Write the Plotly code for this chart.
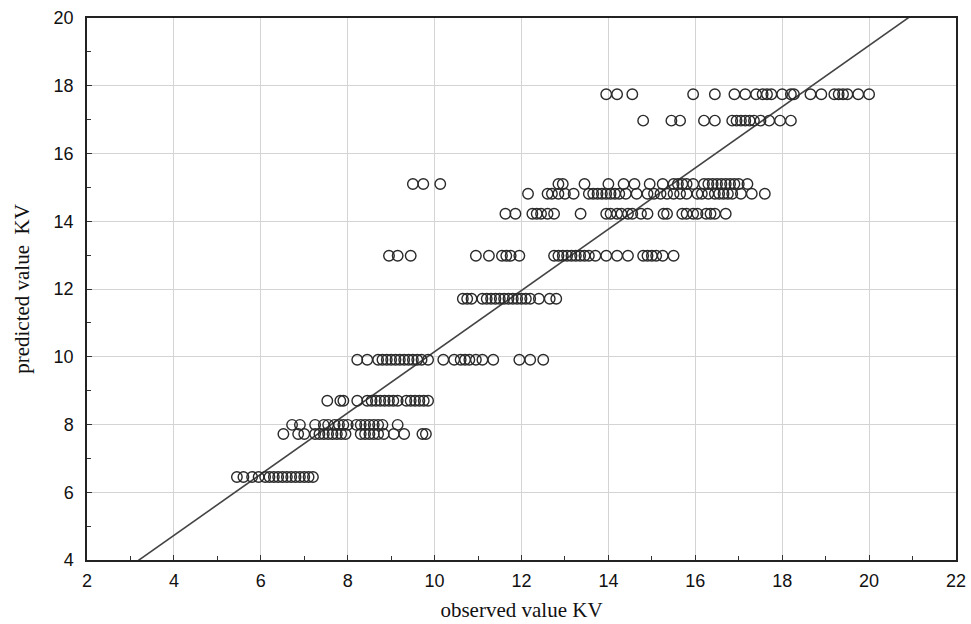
import plotly.graph_objects as go

# Observed values grouped by predicted level
levels = [6.45, 7.72, 7.99, 8.70, 9.91, 11.71, 12.98, 14.22, 14.81, 15.10, 16.97, 17.75]
obs_645 = [5.45, 5.6, 5.8, 5.95, 6.1, 6.2, 6.3, 6.4, 6.5, 6.6, 6.7, 6.8, 6.9, 7.0, 7.1, 7.2]
obs_772 = [6.52, 6.86, 7.0, 7.25, 7.35, 7.45, 7.55, 7.65, 7.75, 7.85, 7.95, 8.3, 8.4, 8.5, 8.6,
           8.7, 8.83, 9.06, 9.3, 9.72, 9.8]
obs_799 = [6.72, 6.9, 7.25, 7.45, 7.55, 7.7, 7.8, 7.9, 8.0, 8.2, 8.3, 8.4, 8.5, 8.6, 8.7, 8.8, 9.15]
obs_870 = [7.53, 7.83, 7.9, 8.22, 8.45, 8.55, 8.65, 8.75, 8.85, 8.95, 9.05, 9.15, 9.35, 9.45,
           9.55, 9.65, 9.75, 9.85]
obs_991 = [8.22, 8.45, 8.7, 8.8, 8.9, 9.0, 9.1, 9.2, 9.3, 9.4, 9.5, 9.6, 9.7, 9.85, 10.2, 10.45,
           10.6, 10.7, 10.8, 10.95, 11.1, 11.35, 11.95, 12.2, 12.5]
obs_1171 = [10.65, 10.75, 10.85, 11.1, 11.2, 11.3, 11.4, 11.5, 11.6, 11.7, 11.8, 11.9, 12.0,
            12.1, 12.2, 12.4, 12.65, 12.8]
obs_1298 = [8.95, 9.15, 9.45, 10.95, 11.25, 11.55, 11.65, 11.75, 11.95, 12.75, 12.85, 12.95,
            13.05, 13.15, 13.25, 13.35, 13.45, 13.55, 13.7, 13.95, 14.2, 14.45, 14.8, 14.9,
            15.0, 15.1, 15.25, 15.5]
obs_1422 = [11.63, 11.86, 12.25, 12.35, 12.45, 12.6, 12.75, 13.36, 13.95, 14.05, 14.2, 14.3,
            14.45, 14.55, 14.75, 14.9, 15.27, 15.35, 15.7, 15.8, 15.95, 16.05, 16.25, 16.35,
            16.45, 16.7]
obs_1481 = [12.15, 12.6, 12.7, 12.85, 13.0, 13.2, 13.55, 13.65, 13.75, 13.85, 13.95, 14.05,
            14.15, 14.25, 14.4, 14.65, 14.9, 15.05, 15.2, 15.35, 15.5, 15.65, 15.8, 16.05,
            16.15, 16.3, 16.45, 16.55, 16.65, 16.75, 16.85, 17.05, 17.3, 17.6]
obs_1510 = [9.5, 9.74, 10.13, 12.85, 12.95, 13.45, 14.0, 14.35, 14.6, 14.95, 15.25, 15.5, 15.6,
            15.7, 15.8, 15.95, 16.2, 16.3, 16.4, 16.5, 16.6, 16.7, 16.8, 16.9, 17.0, 17.2]
obs_1697 = [14.8, 15.45, 15.65, 16.2, 16.45, 16.85, 16.95, 17.05, 17.15, 17.25, 17.35, 17.5,
            17.7, 17.95, 18.2]
obs_1775 = [13.95, 14.2, 14.55, 15.95, 16.45, 16.9, 17.15, 17.4, 17.55, 17.65, 17.75, 18.0,
            18.2, 18.27, 18.65, 18.9, 19.2, 19.3, 19.4, 19.5, 19.75, 20.0]

groups = [obs_645, obs_772, obs_799, obs_870, obs_991, obs_1171, obs_1298, obs_1422,
          obs_1481, obs_1510, obs_1697, obs_1775]

# Fitted line coefficients
fit_intercept = 1.11
fit_slope = 0.904
fit_x = [2, 22]

xs, ys = [], []
for lv, g in zip(levels, groups):
    xs.extend(g)
    ys.extend([lv] * len(g))

fig = go.Figure()
fig.add_trace(go.Scatter(
    x=fit_x, y=[fit_intercept + fit_slope * v for v in fit_x],
    mode="lines", line=dict(color="#444444", width=1.6), hoverinfo="skip",
))
fig.add_trace(go.Scatter(
    x=xs, y=ys, mode="markers",
    marker=dict(symbol="circle-open", size=10.5, color="#2a2a2a", line=dict(width=1.4)),
))

axis_common = dict(
    showline=True, mirror=True, linecolor="#222222", linewidth=1.5,
    showgrid=True, gridcolor="#d4d4d4", gridwidth=1,
    ticks="inside", ticklen=5, tickcolor="#333333",
    tickfont=dict(family="Liberation Sans, Arial, sans-serif", size=18, color="#111111"),
    zeroline=False, automargin=False,
    minor=dict(dtick=1, ticks="inside", ticklen=4, tickcolor="#333333", showgrid=False),
)

fig.update_layout(
    width=971, height=624,
    margin=dict(l=87, r=15, t=18, b=64),
    paper_bgcolor="white", plot_bgcolor="white",
    showlegend=False,
    xaxis=dict(range=[2, 22], dtick=2, tick0=2, ticklabelstandoff=4,
               title=dict(text="observed value KV", standoff=12,
                          font=dict(family="Liberation Serif, Times New Roman, serif", size=21, color="#111111")),
               **axis_common),
    yaxis=dict(range=[4, 20], dtick=2, tick0=4, ticklabelstandoff=8,
               title=dict(text="predicted value  KV", standoff=18,
                          font=dict(family="Liberation Serif, Times New Roman, serif", size=21, color="#111111")),
               **axis_common),
)

# remove the default page margin so the figure fills the window exactly
fig.write_html("out.html", config={"displayModeBar": False},
               post_script="document.body.style.margin='0';document.body.style.overflow='hidden';")
